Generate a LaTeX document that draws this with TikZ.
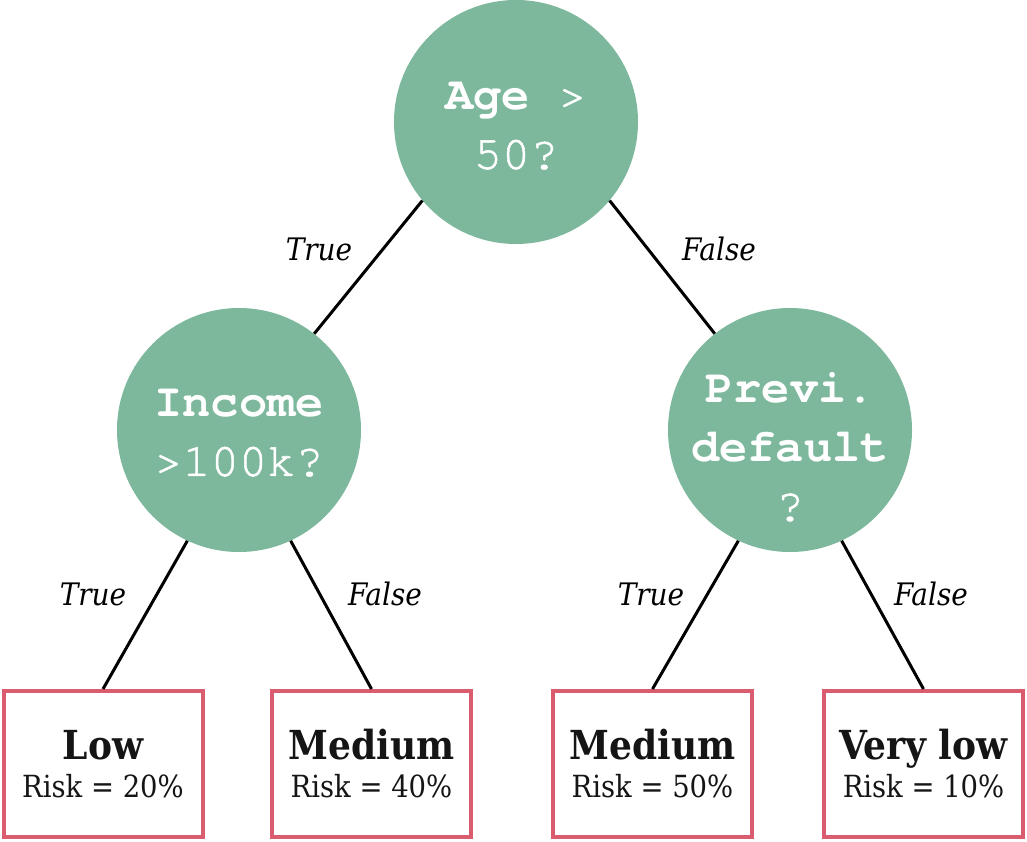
\documentclass[tikz,border=0pt]{standalone}
\usepackage{fontspec}
\setmainfont{DejaVu Serif Condensed}
\setmonofont{TeX Gyre Cursor}[UprightFeatures={FakeBold=1.2}]
\definecolor{nodegreen}{HTML}{7DB89D}
\definecolor{leafred}{HTML}{D95C6F}
\definecolor{leaftext}{HTML}{151515}
\tikzset{
  decision/.style={circle, fill=nodegreen, draw=none, minimum size=244pt, inner sep=0pt},
  dectext/.style={text=white, align=center, font=\ttfamily\fontsize{47}{59}\selectfont, inner sep=0pt},
  leaf/.style={rectangle, draw=leafred, line width=4pt, fill=white, minimum width=199pt, minimum height=146pt, inner sep=0pt,
    align=center, text=leaftext, font=\fontsize{30.5}{38}\selectfont},
  link/.style={line width=3pt, black},
  edgelabel/.style={font=\itshape\fontsize{31}{31}\selectfont, anchor=base, inner sep=0pt}
}
\newcommand{\leafhead}[1]{{\fontsize{40}{38}\selectfont\bfseries #1}}
\begin{document}
\begin{tikzpicture}[x=1pt,y=-1pt]
\useasboundingbox (0,0) rectangle (1027,842);
% decision nodes
\node[decision] (top) at (516,122) {};
\node[decision] (left) at (239,430) {};
\node[decision] (right) at (790,430) {};
\node[dectext] (toptxt) at (516,126) {\textbf{Age} >\\50?};
\node[dectext] (lefttxt) at (239,433) {\textbf{Income}\\>100k?};
\node[dectext] (righttxt) at (790,447) {\textbf{Previ.}\\\textbf{default}\\?};
% leaves
\node[leaf] (l1) at (103,764) {\leafhead{Low}\\Risk = 20\%};
\node[leaf] (l2) at (371.5,764) {\leafhead{Medium}\\Risk = 40\%};
\node[leaf] (l3) at (652.5,764) {\leafhead{Medium}\\Risk = 50\%};
\node[leaf] (l4) at (923.5,764) {\leafhead{Very low}\\Risk = 10\%};
% connectors
\draw[link] (top.220) -- (left.52);
\draw[link] (top.320) -- (right.128);
\draw[link] (left.245) -- (l1.north);
\draw[link] (left.295) -- (l2.north);
\draw[link] (right.245) -- (l3.north);
\draw[link] (right.295) -- (l4.north);
% edge labels
\node[edgelabel] (e1) at (319,261) {True};
\node[edgelabel] (e2) at (719,261) {False};
\node[edgelabel] (e3) at (93,605) {True};
\node[edgelabel] (e4) at (385,605) {False};
\node[edgelabel] (e5) at (651,605) {True};
\node[edgelabel] (e6) at (931,605) {False};
\end{tikzpicture}
\end{document}
